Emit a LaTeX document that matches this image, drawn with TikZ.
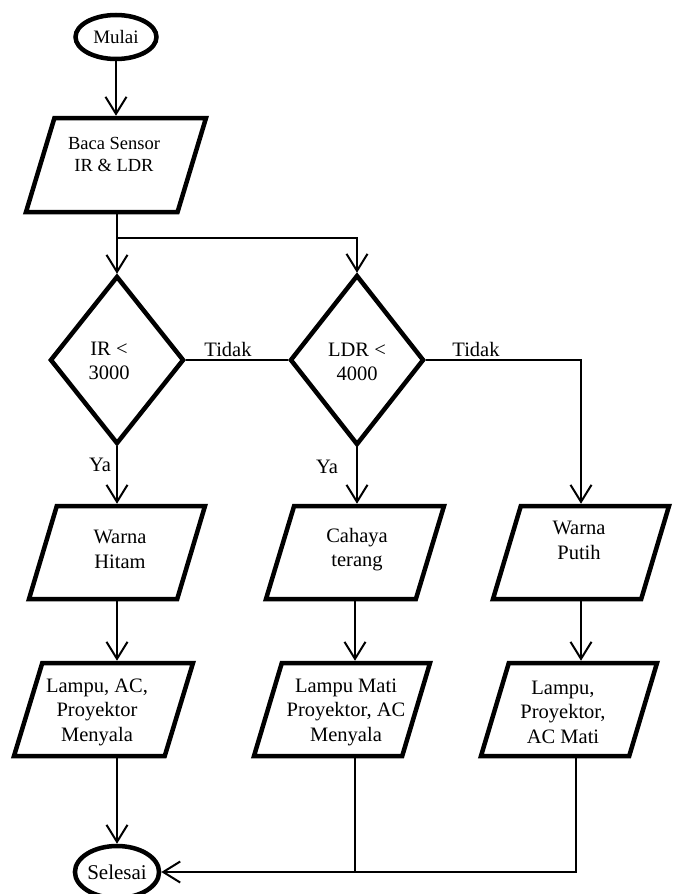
\documentclass[tikz,border=0pt]{standalone}
\usepackage{fontspec}
\setmainfont{Liberation Serif}
\usetikzlibrary{shapes.geometric,arrows.meta}
\tikzset{
  x=1pt,y=1pt,
  shapeline/.style={draw=black,line width=4.5pt,inner sep=0pt},
  para/.style={draw=black,line width=4.5pt,inner sep=2pt,trapezium,trapezium left angle=77,trapezium right angle=103,
    trapezium stretches=true,minimum height=93pt},
  dec/.style={shapeline,diamond,minimum width=134pt,minimum height=168pt},
  term/.style={shapeline,ellipse,inner sep=0pt},
  txt/.style={align=center,font=\fontsize{20.5}{24.5}\selectfont,inner sep=0pt},
  lbl/.style={font=\fontsize{20.5}{24.5}\selectfont,inner sep=0pt},
  conn/.style={line width=2pt,draw=black},
  arr/.style={conn,-{Straight Barb[length=17pt,width=21pt]}}
}
\begin{document}
\begin{tikzpicture}
\useasboundingbox (0,0) rectangle (680,-894);
% terminals
\node[term,minimum width=81pt,minimum height=44pt,font=\fontsize{19}{22}\selectfont] (m) at (116,-37) {Mulai};
\node[term,minimum width=79pt,minimum height=52pt,font=\fontsize{21}{24}\selectfont] (s) at (117,-872) {Selesai};
% input
\node[para,minimum width=180pt,minimum height=94pt] (baca) at (116,-165) {};
\node[txt,font=\fontsize{18.5}{22}\selectfont] (bacat) at (114,-154) {Baca Sensor\\IR \& LDR};
% decisions
\node[dec] (ir) at (117,-360) {};
\node[txt] (irt) at (109,-361) {IR <\\3000};
\node[dec,minimum height=170pt] (ldr) at (357,-360) {};
\node[txt] (ldrt) at (357,-362) {LDR <\\4000};
% row 1
\node[para,minimum width=176pt] (r1a) at (117,-552.5) {};
\node[txt] (r1at) at (120,-549.5) {Warna\\Hitam};
\node[para,minimum width=178pt] (r1b) at (355,-552.5) {};
\node[txt] (r1bt) at (357,-549.5) {Cahaya\\terang};
\node[para,minimum width=176pt] (r1c) at (581,-552.5) {};
\node[txt] (r1ct) at (579,-540.5) {Warna\\Putih};
% row 2
\node[para,minimum width=179pt] (r2a) at (103.5,-709.5) {};
\node[txt] (r2at) at (97,-712) {Lampu, AC,\\Proyektor\\Menyala};
\node[para,minimum width=176pt] (r2b) at (342,-709.5) {};
\node[txt] (r2bt) at (346,-712) {Lampu Mati\\Proyektor, AC\\Menyala};
\node[para,minimum width=176pt] (r2c) at (569,-709.5) {};
\node[txt] (r2ct) at (563,-712) {Lampu,\\Proyektor,\\AC Mati};
% labels
\node[lbl] (t1) at (228,-349) {Tidak};
\node[lbl] (t2) at (476,-349) {Tidak};
\node[lbl] (y1) at (100,-465) {Ya};
\node[lbl] (y2) at (327,-467) {Ya};
% helper coordinates
\coordinate (j1) at (117,-238);
\coordinate (k2) at (355,-872);
\coordinate (k3) at (576,-872);
% connectors
\draw[arr] (m.south) -- (m.south |- baca.north);
\draw[conn] (baca.south -| j1) -- (j1);
\draw[arr] (j1) -- (ir.north);
\draw[arr] (j1) -| (ldr.north);
\draw[conn] (ir.east) -- (ldr.west);
\draw[arr] (ldr.east) -| (r1c.north);
\draw[arr] (ir.south) -- (ir.south |- r1a.north);
\draw[arr] (ldr.south) -- (ldr.south |- r1b.north);
\draw[arr] (r1a.south) -- (r1a.south |- r2a.north);
\draw[arr] (r1b.south) -- (r1b.south |- r2b.north);
\draw[arr] (r1c.south) -- (r1c.south |- r2c.north);
\draw[arr] (s |- r2a.south) -- (s.north);
\draw[conn] (k2 |- r2b.south) -- (k2);
\draw[arr] (k3 |- r2c.south) -- (k3) -- (s.east);
\end{tikzpicture}
\end{document}
